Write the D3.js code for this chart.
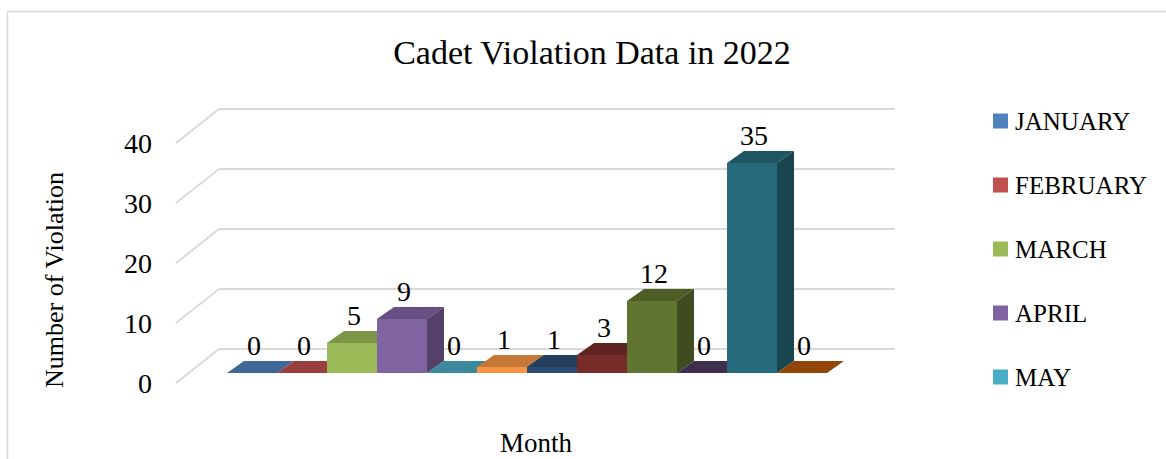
<!DOCTYPE html>
<meta charset="utf-8">
<script src="https://d3js.org/d3.v7.min.js"></script>
<style>
  body { margin: 0; background: #fff; }
  text { font-family: "Liberation Serif", serif; fill: #000; }
</style>
<div id="chart"></div>
<script>

// data
var months = ["JANUARY", "FEBRUARY", "MARCH", "APRIL", "MAY", "JUNE",
              "JULY", "AUGUST", "SEPTEMBER", "OCTOBER", "NOVEMBER", "DECEMBER"]
var violations = [0, 0, 5, 9, 0, 1, 1, 3, 12, 0, 35, 0]
var yTicks = [0, 10, 20, 30, 40]
var colors = ["#4F81BD", "#C0504D", "#9BBB59", "#8064A2", "#4BACC6", "#F79646",
              "#2C4D75", "#772C2A", "#5F7530", "#4D3B62", "#276A7C", "#B65708"]
// legend only shows the first five entries
var legendMonths = months.slice(0, 5)

var width = 1166, height = 459

var svg = d3.select("#chart").append("svg")
    .attr("width", width)
    .attr("height", height)

// chart frame
svg.append("rect")
    .attr("x", 7.5).attr("y", 11.5)
    .attr("width", 1200).attr("height", 500)
    .attr("fill", "none")
    .attr("stroke", "#d9d9d9")
    .attr("stroke-width", 1.5)

// floor front runs 176 -> 852, depth pushes things up and right
var floorLeft = 176, floorRight = 852
var wallDx = 43, wallDy = -34

var x = d3.scaleBand()
    .domain(months)
    .range([floorLeft + 38, floorRight - 38])
    .padding(0)

var y = d3.scaleLinear()
    .domain([0, 40])
    .range([383, 143])

// bars sit inside the depth: front offset and own depth
var barFront = {dx: 13, dy: -10}
var barDepth = {dx: 17, dy: -12}

// gridlines: back wall + side wall
var grid = svg.append("g")
    .attr("stroke", "#d9d9d9")
    .attr("stroke-width", 1.8)
    .attr("fill", "none")

grid.selectAll(".back")
  .data(yTicks)
  .enter().append("line")
    .attr("x1", floorLeft + wallDx)
    .attr("x2", floorRight + wallDx)
    .attr("y1", function(d) { return y(d) + wallDy })
    .attr("y2", function(d) { return y(d) + wallDy })

grid.selectAll(".side")
  .data(yTicks)
  .enter().append("line")
    .attr("x1", floorLeft)
    .attr("y1", function(d) { return y(d) })
    .attr("x2", floorLeft + wallDx)
    .attr("y2", function(d) { return y(d) + wallDy })

// y tick labels
svg.selectAll(".tick")
  .data(yTicks)
  .enter().append("text")
    .attr("x", 152)
    .attr("y", function(d) { return y(d) })
    .attr("dy", "0.35em")
    .attr("text-anchor", "end")
    .style("font-size", "28px")
    .text(function(d) { return d })

// bars, left to right so the next front hides the previous side
var bars = svg.append("g")
var rows = months.map(function(m, i) { return {month: m, value: violations[i], color: colors[i]} })

rows.forEach(function(d) {
  var x0 = x(d.month) + barFront.dx
  var x1 = x0 + x.bandwidth()
  var yb = y(0) + barFront.dy
  var yt = y(d.value) + barFront.dy
  var c = d3.rgb(d.color)
  var g = bars.append("g")

  if (d.value > 0) {
    g.append("rect")
      .attr("x", x0).attr("y", yt)
      .attr("width", x1 - x0).attr("height", yb - yt)
      .attr("fill", c)
  }
  // top
  g.append("path")
    .attr("d", "M" + x0 + "," + yt + "L" + x1 + "," + yt +
               "L" + (x1 + barDepth.dx) + "," + (yt + barDepth.dy) +
               "L" + (x0 + barDepth.dx) + "," + (yt + barDepth.dy) + "Z")
    .attr("fill", c.darker(0.63))
  // right side
  if (d.value > 0) {
    g.append("path")
      .attr("d", "M" + x1 + "," + yt +
                 "L" + (x1 + barDepth.dx) + "," + (yt + barDepth.dy) +
                 "L" + (x1 + barDepth.dx) + "," + (yb + barDepth.dy) +
                 "L" + x1 + "," + yb + "Z")
      .attr("fill", c.darker(1.2))
  }
})

// value labels
svg.selectAll(".label")
  .data(rows)
  .enter().append("text")
    .attr("x", function(d) { return x(d.month) + barFront.dx + x.bandwidth() / 2 + 2 })
    .attr("y", function(d) { return y(d.value) + barFront.dy + barDepth.dy - 6 })
    .attr("text-anchor", "middle")
    .style("font-size", "28px")
    .text(function(d) { return d.value })

// title
svg.append("text")
    .attr("x", 592)
    .attr("y", 64)
    .attr("text-anchor", "middle")
    .style("font-size", "34px")
    .text("Cadet Violation Data in 2022")

// axis titles
svg.append("text")
    .attr("transform", "translate(63,280) rotate(-90)")
    .attr("text-anchor", "middle")
    .style("font-size", "26px")
    .text("Number of Violation")

svg.append("text")
    .attr("x", 536)
    .attr("y", 452)
    .attr("text-anchor", "middle")
    .style("font-size", "27px")
    .text("Month")

// legend
var legend = svg.selectAll(".legend")
  .data(legendMonths)
  .enter().append("g")
    .attr("transform", function(d, i) { return "translate(993," + (121 + i * 64) + ")" })

legend.append("rect")
    .attr("x", 0).attr("y", -7.5)
    .attr("width", 15).attr("height", 15)
    .attr("fill", function(d, i) { return colors[i] })

legend.append("text")
    .attr("x", 22)
    .attr("y", 0)
    .attr("dy", "0.35em")
    .style("font-size", "25px")
    .text(function(d) { return d })

</script>
